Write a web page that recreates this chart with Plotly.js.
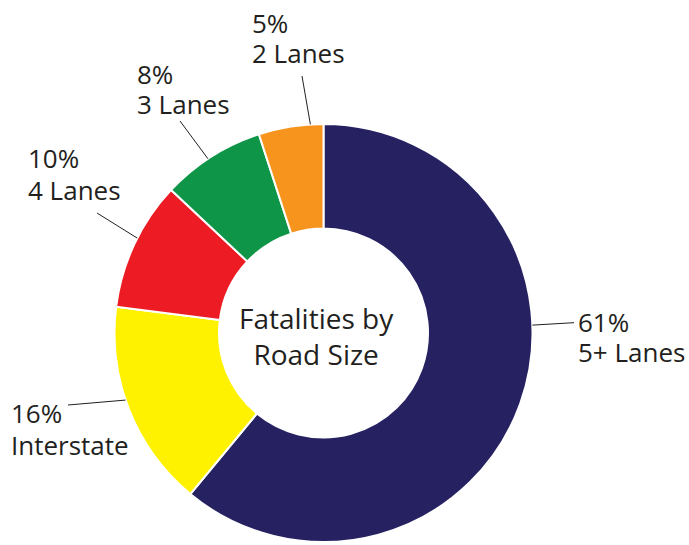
<!DOCTYPE html>
<html>
<head>
<meta charset="utf-8">
<script src="https://cdn.plot.ly/plotly-3.0.1.min.js"></script>
<style>html,body{margin:0;padding:0;background:#fff;}#chart{width:689px;height:545px;}</style>
</head>
<body>
<div id="chart"></div>
<script>
// ---- data ----
var categories = ['5+ Lanes', 'Interstate', '4 Lanes', '3 Lanes', '2 Lanes'];
var values = [61, 16, 10, 8, 5];
var centerTitle = ['Fatalities by', 'Road Size'];

// ---- styles / layout ----
var colors = ['#262262', '#fff200', '#ed1c24', '#0e9547', '#f7941d'];
var W = 689, H = 545;
var cx = 323.5, cy = 333, R = 209;           // pie geometry in px
var textColor = '#231f20';
var fontFam = '"Open Sans", "Noto Sans", sans-serif';
var labelSize = 26, centerSize = 28;
// where along each slice the leader line touches (0..1 of slice)
var anchorFrac = [0.4, 0.55, 0.55, 0.46, 0.8];
// leader line end (px) and label text left x / first-line baseline / line gap
var lineEnd = [[574, 322.7], [68, 405], [97, 213], [180, 121], [302, 76]];
var textPos = [[577, 331, 30], [10, 422, 32], [27, 167, 32], [136, 83, 30], [251, 32, 30]];

function px(x) { return x / W; }
function py(y) { return 1 - y / H; }

var total = values.reduce(function (a, b) { return a + b; }, 0);

var shapes = [], annotations = [];
var cum = 0;
for (var i = 0; i < values.length; i++) {
  var frac = (cum + anchorFrac[i] * values[i]) / total;
  var th = frac * 2 * Math.PI;
  var sx = cx + R * Math.sin(th);
  var sy = cy - R * Math.cos(th);
  cum += values[i];
  shapes.push({
    type: 'line', xref: 'paper', yref: 'paper',
    x0: px(sx), y0: py(sy), x1: px(lineEnd[i][0]), y1: py(lineEnd[i][1]),
    line: { color: textColor, width: 1 }
  });
  var pct = Math.round(values[i] / total * 100) + '%';
  var gap = textPos[i][2];
  var sp = '<span style="font-size:' + labelSize + 'px">';
  annotations.push({
    xref: 'paper', yref: 'paper',
    x: px(textPos[i][0]), y: py(textPos[i][1] + gap / 2 - 0.36 * labelSize),
    xanchor: 'left', yanchor: 'middle', align: 'left',
    text: sp + pct + '</span><br>' + sp + categories[i] + '</span>',
    showarrow: false, borderpad: 0,
    font: { family: fontFam, size: gap / 1.3, color: textColor }
  });
}
annotations.push({
  xref: 'paper', yref: 'paper', x: px(316), y: py(336),
  xanchor: 'center', yanchor: 'middle', showarrow: false,
  text: centerTitle.join('<br>'),
  font: { family: fontFam, size: centerSize, color: textColor }
});

var trace = {
  type: 'pie',
  labels: categories,
  values: values,
  hole: 0.5,
  sort: false,
  direction: 'clockwise',
  rotation: 0,
  textinfo: 'none',
  hoverinfo: 'label+percent',
  marker: { colors: colors, line: { color: '#ffffff', width: 2 } },
  domain: { x: [px(cx - R), px(cx + R)], y: [py(cy + R), py(cy - R)] }
};

var layout = {
  width: W, height: H,
  margin: { l: 0, r: 0, t: 0, b: 0 },
  paper_bgcolor: '#ffffff',
  showlegend: false,
  shapes: shapes,
  annotations: annotations
};

Plotly.newPlot('chart', [trace], layout, { displayModeBar: false, staticPlot: true });
</script>
</body>
</html>
